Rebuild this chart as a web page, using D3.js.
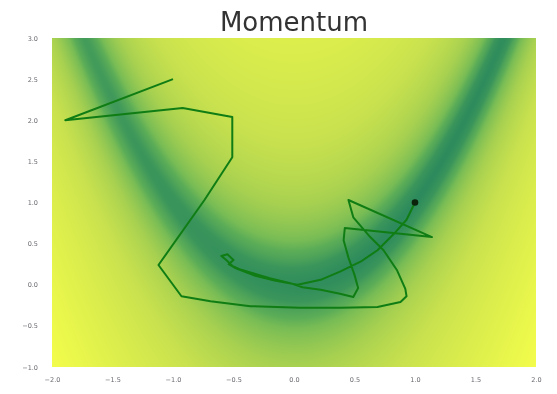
<!DOCTYPE html>
<html>
<head>
<meta charset="utf-8">
<script src="https://cdn.jsdelivr.net/npm/d3@7"></script>
<style>
  html, body { margin: 0; padding: 0; background: #ffffff; }
  #chart { position: relative; width: 557px; height: 394px; }
  #chart canvas, #chart svg { position: absolute; left: 0; top: 0; }
</style>
</head>
<body>
<div id="chart"></div>
<script>
// Axis ranges and ticks
const xDomain = [-2.0, 2.0];
const yDomain = [-1.0, 3.0];
const xTicks = [-2.0, -1.5, -1.0, -0.5, 0.0, 0.5, 1.0, 1.5, 2.0];
const yTicks = [-1.0, -0.5, 0.0, 0.5, 1.0, 1.5, 2.0, 2.5, 3.0];

// Rosenbrock surface parameters: f(x, y) = (a - x)^2 + b (y - x^2)^2
const rosenA = 1;
const rosenB = 100;

// Optimizer trajectory (momentum)
const pathX = [-1.00, -1.89, -0.92, -0.51, -0.51, -0.74, -1.12, -0.93, -0.69, -0.36,
  0.05, 0.38, 0.69, 0.88, 0.93, 0.92, 0.85, 0.74, 0.63, 0.49,
  0.45, 1.14, 0.42, 0.41, 0.45, 0.50, 0.53, 0.49, 0.38, 0.22,
  0.07, -0.03, -0.20, -0.36, -0.45, -0.51, -0.56, -0.60, -0.55, -0.50,
  -0.54, -0.48, -0.32, -0.16, 0.03, 0.22, 0.38, 0.55, 0.69, 0.82,
  0.93, 1.00];
const pathY = [2.50, 2.00, 2.15, 2.04, 1.55, 1.03, 0.24, -0.14, -0.20, -0.26,
  -0.28, -0.28, -0.27, -0.21, -0.14, -0.05, 0.18, 0.42, 0.58, 0.82,
  1.03, 0.58, 0.69, 0.54, 0.33, 0.12, -0.04, -0.15, -0.11, -0.06,
  -0.03, 0.02, 0.08, 0.15, 0.19, 0.23, 0.30, 0.35, 0.37, 0.30,
  0.25, 0.20, 0.11, 0.05, 0.00, 0.06, 0.16, 0.28, 0.42, 0.61,
  0.79, 1.00];

// Global minimum marker
const minimumPoint = [1.0, 1.0];

// Colour ramp keyed on log10(f + 1)
const rampLevels = [0, 0.78, 1.28, 1.49, 2.0, 2.48, 2.95, 3.4];
const rampColors = ["#2c8a5c", "#3a955b", "#5cad57", "#78bc55", "#a8d150", "#c8e14e", "#dcee4c", "#f2fc4b"];

const W = 557, H = 394;
const margin = { top: 38, right: 21, bottom: 27, left: 52 };
const pw = W - margin.left - margin.right;
const ph = H - margin.top - margin.bottom;

const x = d3.scaleLinear().domain(xDomain).range([margin.left, margin.left + pw]);
const y = d3.scaleLinear().domain(yDomain).range([margin.top + ph, margin.top]);

const rosen = (a, b) => (rosenA - a) ** 2 + rosenB * (b - a * a) ** 2;

const color = d3.scaleLinear().domain(rampLevels).range(rampColors)
  .interpolate(d3.interpolateRgb).clamp(true);

// Surface heatmap on a canvas
const root = d3.select("#chart");
const canvas = root.append("canvas")
  .attr("width", pw).attr("height", ph)
  .style("left", margin.left + "px").style("top", margin.top + "px");
const ctx = canvas.node().getContext("2d");
const img = ctx.createImageData(pw, ph);
for (let j = 0; j < ph; j++) {
  const yv = y.invert(margin.top + j + 0.5);
  for (let i = 0; i < pw; i++) {
    const xv = x.invert(margin.left + i + 0.5);
    const c = d3.rgb(color(Math.log10(rosen(xv, yv) + 1)));
    const k = (j * pw + i) * 4;
    img.data[k] = c.r; img.data[k + 1] = c.g; img.data[k + 2] = c.b; img.data[k + 3] = 255;
  }
}
ctx.putImageData(img, 0, 0);

const svg = root.append("svg").attr("width", W).attr("height", H);

// Title
svg.append("text")
  .attr("x", margin.left + pw / 2).attr("y", 31)
  .attr("text-anchor", "middle")
  .attr("font-family", "DejaVu Sans, sans-serif")
  .attr("font-size", 26)
  .attr("fill", "#333333")
  .text("Momentum");

const fmt = d3.format(".1f");

// Axes (labels only, no spines or tick marks)
const xAxis = svg.append("g")
  .attr("transform", `translate(0,${margin.top + ph + 4})`)
  .call(d3.axisBottom(x).tickValues(xTicks).tickFormat(fmt).tickSize(0).tickPadding(6));
const yAxis = svg.append("g")
  .attr("transform", `translate(${margin.left - 14},0)`)
  .call(d3.axisLeft(y).tickValues(yTicks).tickFormat(fmt).tickSize(0).tickPadding(0));
[xAxis, yAxis].forEach(g => {
  g.select(".domain").remove();
  g.selectAll("text")
    .attr("font-family", "DejaVu Sans, sans-serif")
    .attr("font-size", 6.5)
    .attr("fill", "#6a6a72");
});

// Trajectory
const pts = pathX.map((d, i) => [d, pathY[i]]);
svg.append("path")
  .datum(pts)
  .attr("d", d3.line().x(d => x(d[0])).y(d => y(d[1])))
  .attr("fill", "none")
  .attr("stroke", "#0f7d14")
  .attr("stroke-width", 2)
  .attr("stroke-linejoin", "round");

svg.append("circle")
  .attr("cx", x(minimumPoint[0])).attr("cy", y(minimumPoint[1]))
  .attr("r", 3.3)
  .attr("fill", "#0b220b");
</script>
</body>
</html>
